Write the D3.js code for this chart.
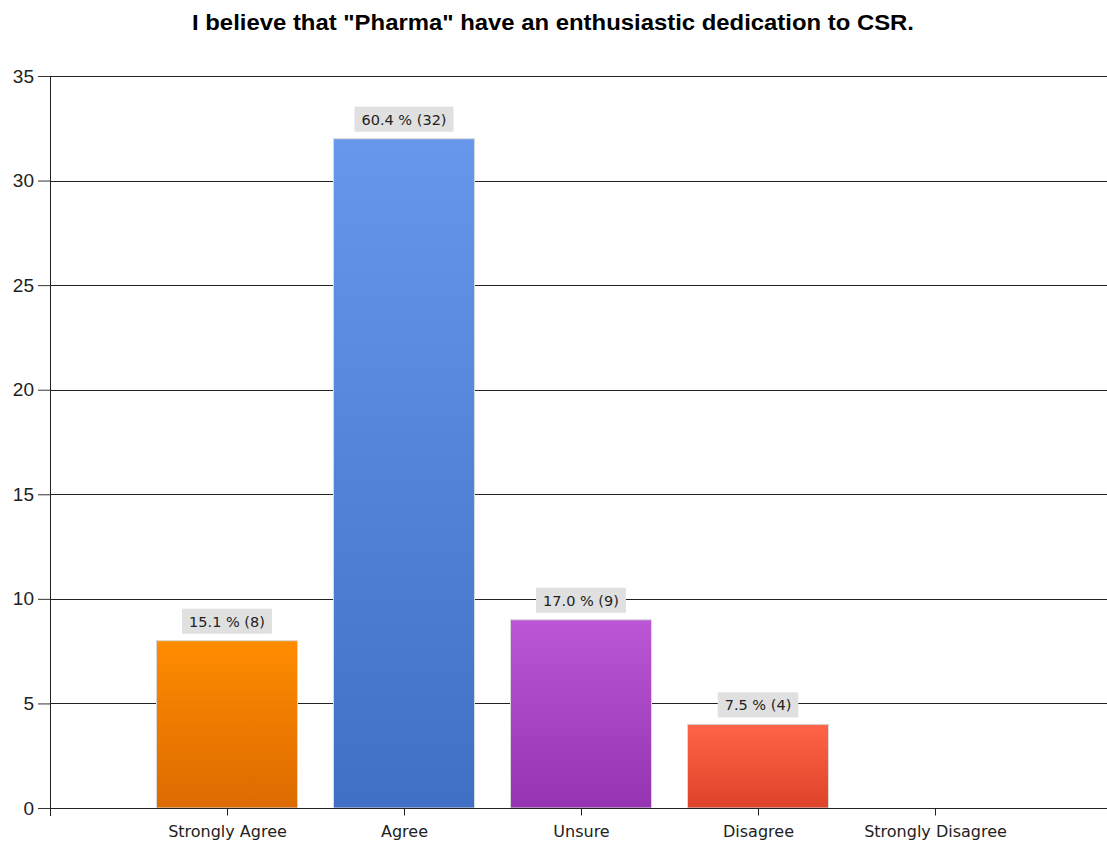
<!DOCTYPE html>
<html>
<head>
<meta charset="utf-8">
<script src="https://cdn.jsdelivr.net/npm/d3@7"></script>
<style>
  html, body { margin: 0; padding: 0; background: #fff; }
  svg { display: block; font-family: "DejaVu Sans", Verdana, sans-serif; }
</style>
</head>
<body>
<svg id="chart" width="1107" height="844"></svg>
<script>
// Survey responses
const categories = ["Strongly Agree", "Agree", "Unsure", "Disagree", "Strongly Disagree"];
const counts = [8, 32, 9, 4, 0];
const percents = [15.1, 60.4, 17.0, 7.5, 0];
const yTicks = [0, 5, 10, 15, 20, 25, 30, 35];
const barColors = [
  ["#ff8c00", "#dc6a00"],
  ["#6697ec", "#3f70c6"],
  ["#bb57d6", "#9533b1"],
  ["#ff6448", "#de4228"],
  ["#999999", "#777777"]
];
const titleText = "I believe that \"Pharma\" have an enthusiastic dedication to CSR.";

const svg = d3.select("#chart");
const margin = { left: 50, top: 76, bottom: 808 };
const plotRight = 1107;
const slot = 177;

// Category positions: index 1..5 on a 0..6 axis
const x = d3.scaleLinear().domain([0, categories.length + 1]).range([margin.left, margin.left + slot * (categories.length + 1)]);
const y = d3.scaleLinear().domain([0, 35]).range([margin.bottom, margin.top]);
const barW = 141;

// Gradients
const defs = svg.append("defs");
barColors.forEach((c, i) => {
  const g = defs.append("linearGradient").attr("id", "grad" + i)
    .attr("x1", 0).attr("y1", 0).attr("x2", 0).attr("y2", 1);
  g.append("stop").attr("offset", "0%").attr("stop-color", c[0]);
  g.append("stop").attr("offset", "100%").attr("stop-color", c[1]);
});

// Title
svg.append("text")
  .attr("x", 553).attr("y", 30)
  .attr("text-anchor", "middle")
  .attr("font-family", "Liberation Sans, Arial, sans-serif")
  .attr("font-size", 22).attr("font-weight", "bold").attr("fill", "#000")
  .attr("textLength", 722).attr("lengthAdjust", "spacingAndGlyphs")
  .text(titleText);

// Left tick marks and labels
const yAxis = d3.axisLeft(y).tickValues(yTicks).tickSize(12).tickPadding(4);
const gy = svg.append("g").attr("transform", `translate(${margin.left},0)`).call(yAxis);
gy.select(".domain").remove();
gy.selectAll(".tick line").attr("stroke", "#333");
gy.selectAll(".tick text").attr("font-size", 19).attr("fill", "#222")
  .attr("font-family", "Liberation Sans, Arial, sans-serif");

// Horizontal grid lines
const grid = svg.append("g");
grid.selectAll("line").data(yTicks.filter(d => d > 0)).join("line")
  .attr("x1", margin.left).attr("x2", plotRight)
  .attr("y1", d => Math.round(y(d)) + 0.5).attr("y2", d => Math.round(y(d)) + 0.5)
  .attr("stroke", "#222").attr("stroke-width", 1);

const rows = categories.map((c, i) => ({ c, v: counts[i], p: percents[i], i })).filter(d => d.v > 0);

// Bars
svg.append("g").selectAll("rect").data(rows)
  .join("rect")
  .attr("x", d => x(d.i + 1) - barW / 2)
  .attr("y", d => y(d.v))
  .attr("width", barW)
  .attr("height", d => y(0) - y(d.v))
  .attr("fill", d => `url(#grad${d.i})`)
  .attr("stroke", "#d8d8d8").attr("stroke-width", 1);

// Value labels
const lab = svg.append("g").selectAll("g").data(rows).join("g");
lab.each(function (d) {
  const g = d3.select(this);
  const t = g.append("text")
    .attr("x", x(d.i + 1)).attr("y", y(d.v) - 14)
    .attr("text-anchor", "middle").attr("font-size", 14.5).attr("fill", "#222")
    .text(`${d.p.toFixed(1)} % (${d.v})`);
  const bb = t.node().getBBox();
  g.insert("rect", "text")
    .attr("x", bb.x - 7).attr("y", y(d.v) - 32)
    .attr("width", bb.width + 14).attr("height", 25)
    .attr("fill", "#e0e0e0");
});

// X axis
const xAxis = d3.axisBottom(x).tickValues(categories.map((_, i) => i + 1))
  .tickFormat(i => categories[i - 1]).tickSize(7).tickPadding(10);
const gx = svg.append("g").attr("transform", `translate(0,${Math.round(y(0)) + 0.5})`).call(xAxis);
gx.select(".domain").remove();
gx.selectAll(".tick line").attr("stroke", "#222");
gx.selectAll(".tick text").attr("font-size", 16).attr("fill", "#222")
  .attr("font-family", "DejaVu Sans, Verdana, sans-serif");
svg.append("line")
  .attr("x1", margin.left).attr("x2", plotRight)
  .attr("y1", Math.round(y(0)) + 0.5).attr("y2", Math.round(y(0)) + 0.5)
  .attr("stroke", "#222");

// Y axis line (extends slightly below zero)
svg.append("line")
  .attr("x1", margin.left + 0.5).attr("x2", margin.left + 0.5)
  .attr("y1", y(35)).attr("y2", y(0) + 8)
  .attr("stroke", "#222");
</script>
</body>
</html>
